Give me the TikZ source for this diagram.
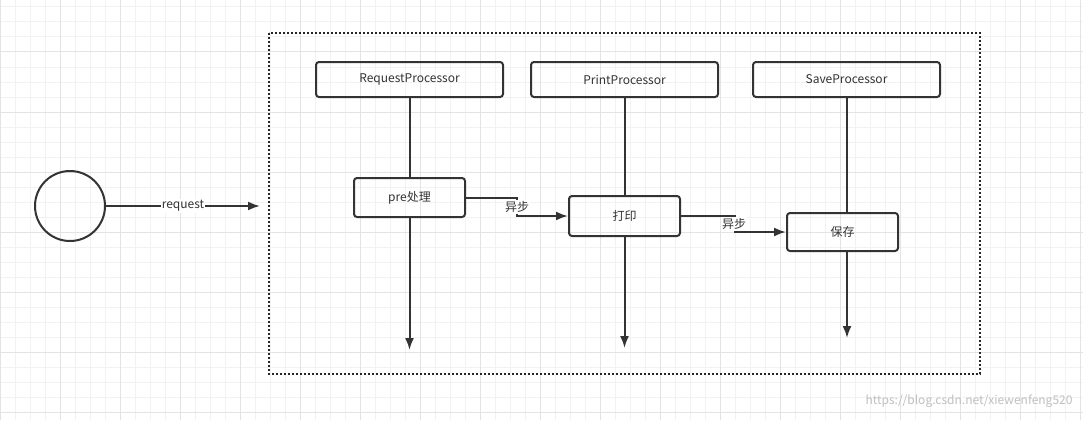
\documentclass[tikz,border=0pt]{standalone}
\usepackage{fontspec}
\setmainfont{Noto Sans CJK SC}
\usetikzlibrary{arrows.meta}
\begin{document}
\begin{tikzpicture}[x=1pt,y=-1pt,
  box/.style={draw=black!80,line width=2pt,rounded corners=3pt,inner sep=0pt,font=\fontsize{12}{14}\selectfont,text=black!80},
  ln/.style={draw=black!80,line width=2pt},
  arr/.style={ln,-{Latex[length=12pt,width=9pt]}},
  lab/.style={fill=white,inner sep=1pt,font=\fontsize{12}{14}\selectfont,text=black!80}]
\useasboundingbox (0,0) rectangle (1083,420);
\fill[white] (0,0) rectangle (1083,420);
\foreach \x in {0,15,...,1080} \draw[black!5,line width=1pt] (\x,0) -- (\x,420);
\foreach \y in {7,22,...,420} \draw[black!5,line width=1pt] (0,\y) -- (1083,\y);
\foreach \x in {0,60,...,1080} \draw[black!11,line width=1pt] (\x,0) -- (\x,420);
\foreach \y in {52,112,...,420} \draw[black!11,line width=1pt] (0,\y) -- (1083,\y);
\draw[black!85,line width=1.8pt,dash pattern=on 2pt off 2pt] (269,33) rectangle (980,374);
\node[draw=black!80,line width=2pt,circle,minimum size=70pt,inner sep=0pt] (c) at (70,206) {};
\coordinate (rq) at (260,206);
\draw[arr] (c) -- node[lab]{request} (rq);
\node[box,minimum width=187pt,minimum height=35pt] (rp) at (409.5,79.5) {RequestProcessor};
\node[box,minimum width=187pt,minimum height=35pt] (pp) at (624.5,79.5) {PrintProcessor};
\node[box,minimum width=187pt,minimum height=35pt] (sp) at (846.5,79.5) {SaveProcessor};
\node[box,minimum width=111pt,minimum height=39pt] (pre) at (409.5,197.5) {pre处理};
\node[box,minimum width=111pt,minimum height=40pt] (dy) at (624.5,216) {打印};
\node[box,minimum width=111pt,minimum height=38pt] (bc) at (842.5,232) {保存};
\coordinate (e1) at (409.5,350);
\coordinate (e2) at (624.5,348);
\coordinate (e3) at (847,338);
\draw[ln] (rp) -- (pre); \draw[arr] (pre) -- (e1);
\draw[ln] (pp) -- (dy); \draw[arr] (dy) -- (e2);
\draw[ln] (sp.south -| e3) -- (e3 |- bc.north); \draw[arr] (e3 |- bc.south) -- (e3);
\draw[arr] (pre.east) -- (517,197.5) -- (517,216) -- (dy.west);
\node[lab] at (517,207) {异步};
\draw[arr] (dy.east) -- (735,216) -- (735,232) -- (bc.west);
\node[lab] at (734,224) {异步};
\node[text=black!25,font=\fontsize{12}{14}\selectfont,anchor=east] at (1076,401) {https://blog.csdn.net/xiewenfeng520};
\end{tikzpicture}
\end{document}
